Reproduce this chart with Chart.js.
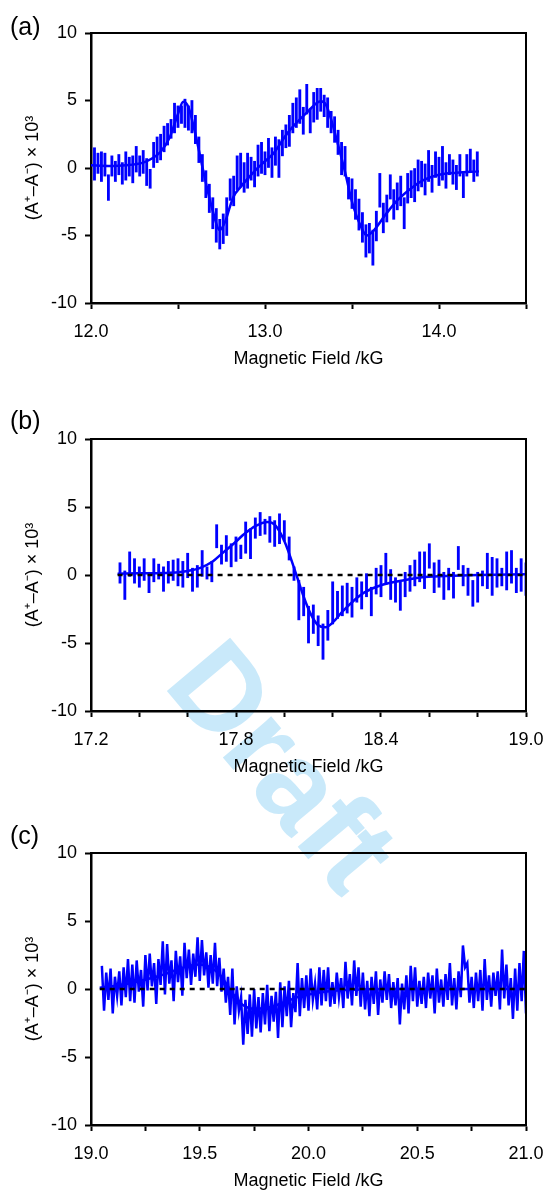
<!DOCTYPE html>
<html><head><meta charset="utf-8">
<script src="https://cdn.jsdelivr.net/npm/chart.js@4.4.1/dist/chart.umd.min.js"></script>
<style>
html,body{margin:0;padding:0;background:#fff;width:548px;height:1192px;overflow:hidden;position:relative;}
#wm{position:absolute;left:284px;top:765px;transform:translate(-50%,-50%) rotate(50deg);font:bold 120px "Liberation Sans",Arial,sans-serif;color:#c9e9fa;z-index:0;white-space:nowrap;line-height:1;}
canvas{position:absolute;left:0;z-index:1;}
</style></head><body>
<div id="wm">Draft</div>
<canvas id="ca" width="548" height="380" style="top:0;width:548px;height:380px"></canvas>
<canvas id="cb" width="548" height="390" style="top:400px;width:548px;height:390px"></canvas>
<canvas id="cc" width="548" height="382" style="top:810px;width:548px;height:382px"></canvas>
<script>
// ---------- DATA ----------
const yTickValues = [-10, -5, 0, 5, 10];
const xLabelsA = ['12.0', '13.0', '14.0'];
const xLabelsB = ['17.2', '17.8', '18.4', '19.0'];
const xLabelsC = ['19.0', '19.5', '20.0', '20.5', '21.0'];
const panelLabels = ['(a)', '(b)', '(c)'];
const xTitle = 'Magnetic Field /kG';
const yTitle = '(A\u207A\u2013A\u207B) \u00D7 10\u00B3';

// panel (a): measured points [field, low, high]
const aBars = [
[12.02,-0.9,1.5],[12.04,-0.4,1.1],[12.06,-1.0,1.2],[12.08,-0.6,1.1],[12.10,-2.4,-0.5],[12.12,-0.6,0.9],[12.14,-1.0,0.5],[12.16,-0.5,1.0],[12.18,-1.2,0.4],[12.20,-0.9,1.2],
[12.22,-0.6,0.8],[12.24,-1.1,0.9],[12.26,-0.3,1.6],[12.28,-0.6,0.9],[12.30,-0.4,1.3],[12.32,-1.3,0.7],[12.34,-1.5,-0.1],[12.36,0.0,1.9],[12.38,0.4,2.3],[12.40,0.6,2.5],
[12.42,1.2,3.1],[12.44,1.7,3.3],[12.46,2.2,3.6],[12.48,2.6,4.8],[12.50,3.0,4.6],[12.52,3.3,4.6],[12.54,3.0,5.1],[12.56,2.8,4.6],[12.58,2.6,5.0],[12.60,1.8,3.9],
[12.62,0.4,2.3],[12.64,-1.0,1.0],[12.66,-2.2,-0.2],[12.68,-3.3,-1.2],[12.70,-4.5,-2.2],[12.72,-5.5,-3.0],[12.74,-6.0,-3.8],[12.76,-5.6,-3.4],[12.78,-5.0,-2.2],[12.80,-2.4,-0.8],
[12.82,-2.8,-0.6],[12.84,-1.6,0.9],[12.86,-1.4,1.1],[12.88,-1.8,0.4],[12.90,-1.5,1.1],[12.92,-0.9,0.8],[12.94,-1.4,0.5],[12.96,-0.6,1.7],[12.98,-0.4,1.9],[13.00,-0.5,1.2],
[13.02,0.0,2.2],[13.04,-0.7,1.5],[13.06,0.2,2.3],[13.08,-0.7,2.1],[13.10,0.9,2.8],[13.12,1.5,3.2],[13.14,1.6,3.9],[13.16,2.6,4.8],[13.18,3.0,5.2],[13.20,3.3,5.8],
[13.22,2.5,4.5],[13.24,4.0,6.2],[13.26,2.6,4.4],[13.28,3.4,5.6],[13.30,3.6,5.9],[13.32,4.2,5.9],[13.34,3.8,5.4],[13.36,3.0,5.2],[13.38,2.6,4.2],[13.40,1.9,3.8],
[13.42,1.0,2.8],[13.44,-0.5,1.9],[13.46,-0.6,1.6],[13.48,-2.3,-0.7],[13.50,-3.0,-0.8],[13.52,-3.8,-1.6],[13.54,-4.6,-2.3],[13.56,-5.5,-3.3],[13.58,-6.6,-4.2],[13.60,-6.3,-4.1],
[13.62,-7.2,-4.6],[13.64,-5.4,-3.2],[13.66,-2.9,-0.4],[13.68,-4.8,-2.6],[13.70,-4.0,-2.0],[13.72,-2.3,-0.5],[13.74,-3.8,-1.6],[13.76,-3.1,-1.1],[13.78,-2.8,-0.6],[13.80,-4.5,-2.2],
[13.82,-2.6,-0.4],[13.84,-2.2,-0.2],[13.86,-2.5,0.0],[13.88,-1.7,0.6],[13.90,-1.4,0.5],[13.92,-2.0,0.3],[13.94,-1.0,1.3],[13.96,-1.8,0.2],[13.98,-0.7,1.2],[14.00,-1.3,0.8],
[14.02,-0.9,1.6],[14.04,-1.5,0.4],[14.06,-0.5,1.0],[14.08,-1.2,0.6],[14.10,-1.6,0.2],[14.12,-0.6,1.0],[14.14,-2.2,-0.4],[14.16,-0.6,1.0],[14.18,-0.2,1.4],[14.20,-1.0,0.6],
[14.22,-0.6,1.2]
];
// panel (a): fitted curve [field, value]
const aFit = [
[12.00,0.2],[12.10,0.15],[12.20,0.2],[12.30,0.4],[12.35,0.7],[12.40,1.2],[12.45,2.2],[12.50,4.0],[12.53,4.9],[12.56,4.5],
[12.60,2.5],[12.65,-0.5],[12.70,-3.2],[12.74,-4.6],[12.77,-4.0],[12.80,-2.8],[12.82,-2.1],[12.86,-1.4],[12.90,-0.8],[12.95,-0.1],
[13.00,0.5],[13.05,1.1],[13.13,2.6],[13.24,4.1],[13.32,4.95],[13.35,4.7],[13.38,3.6],[13.41,2.2],[13.46,-0.3],[13.50,-2.5],
[13.55,-4.3],[13.585,-5.0],[13.62,-4.7],[13.69,-3.5],[13.76,-2.4],[13.85,-1.4],[13.91,-0.9],[14.00,-0.5],[14.10,-0.35],[14.23,-0.25]
];

// panel (b): measured points [field, low, high]
const bBars = [
[17.32,-0.6,0.9],[17.34,-1.8,0.3],[17.36,-0.1,1.7],[17.38,-0.6,1.2],[17.40,-0.9,0.6],[17.42,-0.4,1.2],[17.44,-1.3,0.2],[17.46,-0.5,1.2],[17.48,-0.3,0.8],[17.50,-1.2,0.6],
[17.52,-0.6,1.0],[17.54,-0.4,1.1],[17.56,-0.8,1.2],[17.58,-0.9,1.0],[17.60,-0.2,1.6],[17.62,-1.2,0.5],[17.64,-0.9,0.7],[17.66,-0.1,1.8],[17.68,-0.3,0.6],[17.70,-0.5,1.0],
[17.72,2.0,3.7],[17.74,0.8,2.2],[17.76,1.0,2.9],[17.78,0.6,2.3],[17.80,1.0,2.8],[17.82,1.2,2.2],[17.84,1.6,3.9],[17.86,1.2,3.4],[17.88,2.7,4.2],[17.90,2.9,4.6],
[17.92,3.0,4.1],[17.94,2.4,4.3],[17.96,2.1,4.0],[17.98,2.3,4.5],[18.00,2.5,4.0],[18.02,1.1,2.8],[18.04,-0.4,0.6],[18.06,-3.3,-0.4],[18.08,-3.0,-0.9],[18.10,-5.0,-2.3],
[18.12,-4.3,-2.2],[18.14,-5.2,-3.0],[18.16,-6.2,-3.6],[18.18,-4.8,-2.6],[18.20,-3.6,-0.5],[18.22,-3.2,-1.2],[18.24,-3.0,-0.8],[18.26,-2.8,-0.6],[18.28,-3.1,-0.9],[18.30,-2.0,-0.2],
[18.32,-2.5,-0.5],[18.34,-1.6,0.1],[18.36,-3.0,-0.9],[18.38,-1.4,0.5],[18.40,-1.6,0.7],[18.42,-0.7,1.6],[18.44,-1.8,0.4],[18.46,-2.0,-0.2],[18.48,-2.6,-0.5],[18.50,-1.6,0.2],
[18.52,-1.2,0.7],[18.54,-0.8,1.1],[18.56,-0.5,1.7],[18.58,-1.0,1.7],[18.60,0.5,2.3],[18.62,-1.3,0.9],[18.64,-0.9,1.1],[18.66,-1.8,0.2],[18.68,-1.1,0.5],[18.70,-1.7,0.2],
[18.72,0.4,2.1],[18.74,-0.8,0.7],[18.76,-1.5,0.5],[18.78,-2.3,-0.4],[18.80,-2.0,0.2],[18.82,-0.8,0.3],[18.84,-1.0,1.6],[18.86,-1.5,1.3],[18.88,-0.9,1.2],[18.90,-0.8,0.5],
[18.92,-1.1,1.7],[18.94,-0.6,1.8],[18.96,-1.3,0.5],[18.98,-1.2,1.2],[19.00,-1.5,0.9]
];
const bFit = [
[17.31,0.1],[17.40,0.12],[17.50,0.15],[17.56,0.2],[17.60,0.3],[17.65,0.5],[17.70,0.95],[17.75,1.7],[17.79,2.3],[17.84,3.1],
[17.88,3.6],[17.93,3.9],[17.96,3.7],[18.00,2.5],[18.05,0.0],[18.08,-1.6],[18.11,-2.9],[18.14,-3.7],[18.17,-3.85],[18.20,-3.5],
[18.24,-2.7],[18.28,-2.0],[18.33,-1.3],[18.40,-0.75],[18.49,-0.4],[18.58,-0.15],[18.70,-0.05],[18.80,0.0],[19.00,0.05]
];
const bZero = [[17.31,0],[19.00,0]];

// panel (c): measured trace, one value every 0.01 kG starting at 19.05
const cStart = 19.05, cStep = 0.01;
const cValues = [
 1.7,-1.6, 1.2,-0.8, 1.5,-1.8, 0.9,-0.5, 1.3,-1.2,   // 19.05
 1.6,-0.6, 2.2,-0.9, 1.8,-1.0, 2.1,-0.2, 1.4,-1.3,   // 19.15
 2.5,-0.1, 2.6, 0.2, 1.9,-1.1, 2.2, 0.3, 3.5,-0.4,   // 19.25
 3.3, 0.4, 2.1,-0.9, 2.8, 0.5, 2.4,-0.5, 3.4, 0.8,   // 19.35
 2.9, 0.3, 2.6, 0.9, 3.8, 0.6, 3.6, 1.0, 2.7, 0.1,   // 19.45
 2.5, 0.4, 3.4, 0.2, 2.3,-0.2, 1.5,-1.0, 0.9,-1.9,   // 19.55
 1.5,-2.6, 0.2,-1.6,-0.6,-4.1,-0.8,-3.3,-0.4,-3.5,   // 19.65
 0.0,-2.9,-0.6,-3.2,-0.3,-2.6, 0.3,-3.1,-0.5,-2.4,   // 19.75
-0.2,-3.6, 0.5,-2.8, 0.2,-2.0, 0.6,-2.8,-0.3,-1.7,   // 19.85
 1.9,-2.0, 0.8,-1.4, 1.0,-1.6, 1.5,-0.8, 0.4,-1.5,   // 19.95
 1.6,-1.2, 1.4,-0.9, 1.6,-1.3, 0.5,-1.1, 1.2,-0.6,   // 20.05
 0.8,-1.4, 2.0,-0.7, 1.1,-1.2, 2.1,-0.5, 1.6,-1.3,   // 20.15
 1.2,-1.5, 0.6,-2.0, 0.9,-1.1, 1.3,-1.9, 0.7,-1.0,   // 20.25
 1.3,-0.8, 1.1,-1.4, 0.5,-1.2, 0.8,-2.6, 0.4,-1.5,   // 20.35
 1.0,-1.8, 1.7,-0.9, 1.6,-1.3, 0.6,-1.1, 0.9,-1.4,   // 20.45
 1.2,-0.7, 1.0,-1.8, 1.5,-1.0, 0.7,-1.3, 1.1,-0.8,   // 20.55
 1.9,-1.2, 0.8,-1.5, 1.3,-0.6, 3.2, 1.6, 1.9,-1.0,   // 20.65
 0.9,-1.4, 1.2,-0.9, 1.4,-1.6, 2.2,-0.8, 1.0,-1.3,   // 20.75
 1.2,-0.5, 1.3,-1.5, 2.9,-0.7, 1.8,-1.2, 0.8,-2.2,   // 20.85
 1.5,-1.6, 1.9,-0.9, 2.8,-1.8                        // 20.95
];
const cFit = [
[19.04,0.1],[19.10,0.2],[19.20,0.5],[19.30,0.9],[19.35,1.15],[19.40,1.45],[19.45,1.7],[19.50,1.8],[19.55,1.6],[19.60,0.9],
[19.65,-0.3],[19.70,-1.2],[19.75,-1.45],[19.80,-1.4],[19.85,-1.2],[19.90,-0.9],[19.95,-0.6],[20.00,-0.4],[20.10,-0.15],[20.20,-0.05],
[20.40,0],[20.70,0],[21.00,0]
];
const cZero = [[19.04,0],[21.00,0]];

// ---------- STYLE / HELPERS ----------
const FONT = '"Liberation Sans", Arial, Helvetica, sans-serif';
const BLUE = '#0000ff';
const FS = 18;

const framePlugin = {
  id: 'frame',
  afterDraw(chart, args, o) {
    const {ctx, chartArea: a} = chart;
    ctx.save();
    ctx.strokeStyle = '#000';
    ctx.lineWidth = 2;
    ctx.beginPath();
    ctx.moveTo(a.left, a.top);
    ctx.lineTo(a.right, a.top);
    ctx.lineTo(a.right, a.bottom);
    ctx.stroke();
    ctx.fillStyle = '#000';
    ctx.font = '25px ' + FONT;
    ctx.textAlign = 'left';
    ctx.textBaseline = 'middle';
    ctx.fillText(o.label, o.x, o.y);
    ctx.restore();
  }
};

function xScale(min, max, step, labels) {
  return {
    type: 'linear', min, max, offset: false,
    border: {display: true, color: '#000', width: 2.5},
    grid: {display: true, drawOnChartArea: false, drawTicks: true, tickLength: 6, tickColor: '#000', tickWidth: 2, offset: false},
    ticks: {stepSize: step, autoSkip: false, maxRotation: 0, minRotation: 0, padding: 12, color: '#000',
      font: {family: FONT, size: FS},
      callback: (v) => { const s = Number(v).toFixed(1); return labels.includes(s) ? s : ''; }},
    title: {display: true, text: xTitle, color: '#000', font: {family: FONT, size: FS}, padding: {top: 0, bottom: 0}},
    afterFit: (s) => { s.height = 67; s.paddingLeft = 0; s.paddingRight = 0; }
  };
}
function yScale() {
  return {
    type: 'linear', min: yTickValues[0], max: yTickValues[yTickValues.length - 1],
    border: {display: true, color: '#000', width: 2.5},
    grid: {display: true, drawOnChartArea: false, drawTicks: true, tickLength: 6, tickColor: '#000', tickWidth: 2},
    ticks: {stepSize: 5, padding: 8, color: '#000', font: {family: FONT, size: FS}},
    title: {display: true, text: yTitle, color: '#000', font: {family: FONT, size: FS}, padding: {top: 22, bottom: 0}},
    afterFit: (s) => { s.width = 91; s.paddingTop = 0; s.paddingBottom = 0; }
  };
}
function baseOptions(padTop, padBottom, xs, label, ly) {
  return {
    responsive: false, animation: false, events: [],
    layout: {padding: {top: padTop, right: 22, bottom: padBottom, left: 0}},
    plugins: {legend: {display: false}, tooltip: {enabled: false},
      frame: {label: label, x: 10, y: ly}},
    scales: {x: xs, y: yScale()}
  };
}
const fitDs = (pts) => ({type: 'line', data: pts.map(([x, y]) => ({x, y})), borderColor: BLUE, borderWidth: 2.5,
  pointRadius: 0, cubicInterpolationMode: 'monotone', fill: false, order: 1});
const zeroDs = (pts) => ({type: 'line', data: pts.map(([x, y]) => ({x, y})), borderColor: '#000', borderWidth: 2.5,
  borderDash: [5, 5], pointRadius: 0, fill: false, order: 0});
const barDs = (pts) => ({type: 'bar', data: pts.map(([x, lo, hi]) => ({x, y: [lo, hi]})), backgroundColor: BLUE,
  borderWidth: 0, barThickness: 2.2, order: 2});

// ---------- CHARTS ----------
new Chart(document.getElementById('ca'), {
  type: 'bar',
  data: {datasets: [barDs(aBars), fitDs(aFit)]},
  options: baseOptions(33, 10, xScale(12, 14.5, 0.5, xLabelsA), panelLabels[0], 28),
  plugins: [framePlugin]
});
new Chart(document.getElementById('cb'), {
  type: 'bar',
  data: {datasets: [barDs(bBars), fitDs(bFit), zeroDs(bZero)]},
  options: baseOptions(39, 12, xScale(17.2, 19.0, 0.2, xLabelsB), panelLabels[1], 22.5),
  plugins: [framePlugin]
});
const cPoints = cValues.map((v, i) => ({x: +(cStart + i * cStep).toFixed(2), y: v}));
new Chart(document.getElementById('cc'), {
  type: 'line',
  data: {datasets: [
    {type: 'line', data: cPoints, borderColor: BLUE, borderWidth: 2.5, pointRadius: 0, tension: 0, fill: false, order: 2},
    fitDs(cFit), zeroDs(cZero)]},
  options: baseOptions(43, 0, xScale(19, 21, 0.25, xLabelsC), panelLabels[2], 27.5),
  plugins: [framePlugin]
});
</script>
</body></html>
